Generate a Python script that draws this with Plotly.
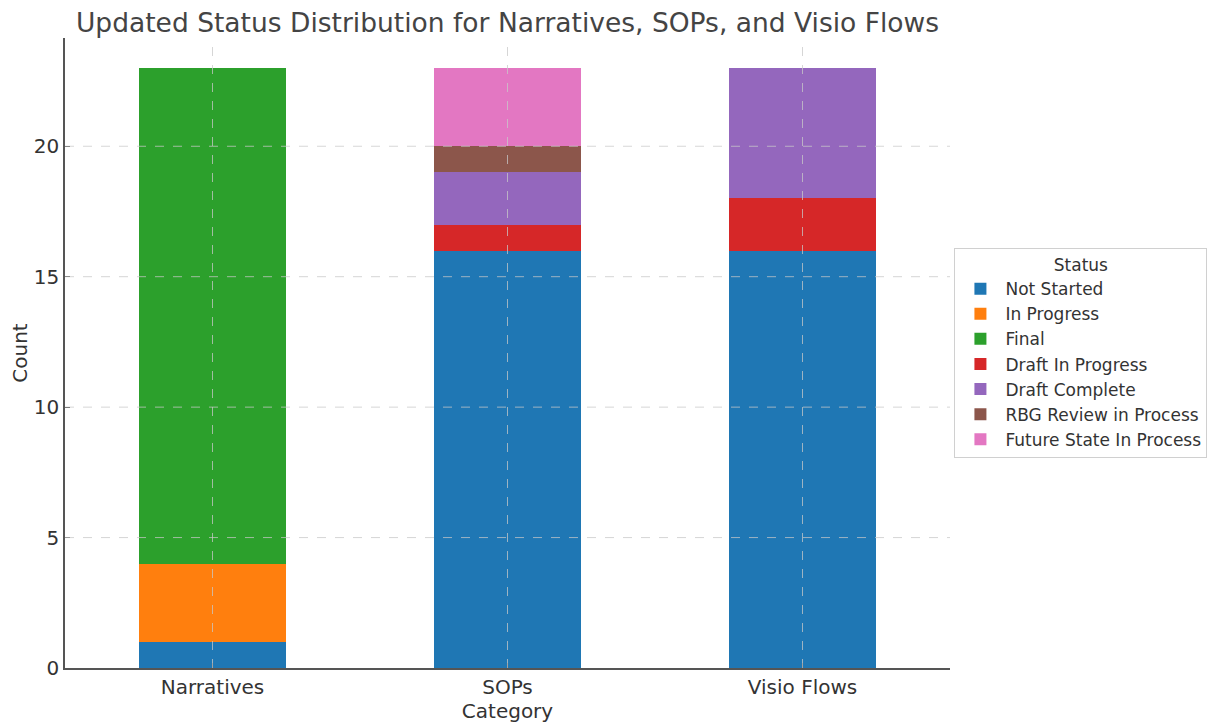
import plotly.graph_objects as go

categories = ["Narratives", "SOPs", "Visio Flows"]
statuses = ["Not Started", "In Progress", "Final", "Draft In Progress",
            "Draft Complete", "RBG Review in Process", "Future State In Process"]
not_started = [1, 16, 16]
in_progress = [3, 0, 0]
final = [19, 0, 0]
draft_in_progress = [0, 1, 2]
draft_complete = [0, 2, 5]
rbg_review = [0, 1, 0]
future_state = [0, 3, 0]
series = [not_started, in_progress, final, draft_in_progress,
          draft_complete, rbg_review, future_state]
colors = ["#1f77b4", "#ff7f0e", "#2ca02c", "#d62728", "#9467bd", "#8c564b", "#e377c2"]
y_ticks = [0, 5, 10, 15, 20]

fig = go.Figure()
for name, vals, col in zip(statuses, series, colors):
    fig.add_trace(go.Bar(x=categories, y=vals, name=name, marker_color=col,
                         marker_line_width=0, width=0.5))

# dashed grid drawn above the bars (as in the reference)
grid_col = "rgba(200,200,200,0.75)"
for t in y_ticks[1:]:
    fig.add_shape(type="line", xref="paper", yref="y", x0=0, x1=1, y0=t, y1=t,
                  line=dict(color=grid_col, width=1, dash="dash"), layer="above")
for c in categories:
    fig.add_shape(type="line", xref="x", yref="paper", x0=c, x1=c, y0=0, y1=1,
                  line=dict(color=grid_col, width=1, dash="dash"), layer="above")

font = "DejaVu Sans, Verdana, sans-serif"
fig.update_layout(
    barmode="stack",
    width=1220, height=727,
    margin=dict(l=57, r=278, t=30, b=67, autoexpand=False),
    paper_bgcolor="white", plot_bgcolor="white",
    font=dict(family=font, color="#333333", size=20),
    title=dict(text="Updated Status Distribution for Narratives, SOPs, and Visio Flows",
               x=0.5, xref="paper", xanchor="center", yref="container",
               y=1 - 5 / 727, yanchor="top",
               font=dict(size=26.5, color="#444444")),
    legend=dict(title=dict(text="Status", side="top center", font=dict(size=17)),
                traceorder="normal", x=1.005, xanchor="left", y=0.5, yanchor="middle",
                bordercolor="#d0d0d0", borderwidth=1, font=dict(size=17),
                itemwidth=40, tracegroupgap=0),
    showlegend=True,
)
fig.update_xaxes(range=[-0.5, 2.5], showline=True, linecolor="#555555", linewidth=1.5,
                 ticks="inside", ticklen=5, tickcolor="#333333",
                 showgrid=False, automargin=False, tickfont=dict(size=20),
                 title=dict(text="Category", font=dict(size=20), standoff=2))
fig.update_yaxes(range=[0, 24.15], showline=True, linecolor="#555555", linewidth=1.5,
                 ticks="inside", ticklen=5, tickcolor="#333333", tickvals=y_ticks,
                 showgrid=False, zeroline=False, automargin=False, tickfont=dict(size=20),
                 title=dict(text="Count", font=dict(size=20), standoff=14))

fig.write_html("out.html")
